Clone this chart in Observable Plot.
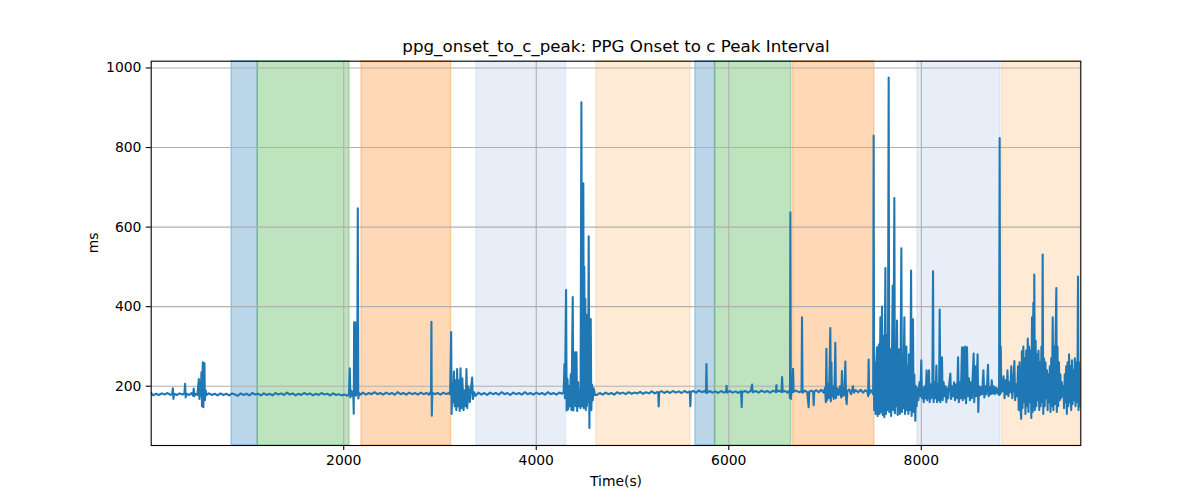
<!DOCTYPE html>
<html>
<head>
<meta charset="utf-8">
<script src="https://cdn.jsdelivr.net/npm/d3@7"></script>
<script src="https://cdn.jsdelivr.net/npm/@observablehq/plot@0.6"></script>
<style>
  html, body { margin: 0; padding: 0; background: #fff; }
  #chart { width: 1200px; height: 500px; }
</style>
</head>
<body>
<div id="chart"></div>
<script>
// ---- Chart text ----
const title = "ppg_onset_to_c_peak: PPG Onset to c Peak Interval";
const xLabel = "Time(s)";
const yLabel = "ms";

// ---- Axis ticks ----
const xTicks = [2000, 4000, 6000, 8000];
const yTicks = [200, 400, 600, 800, 1000];
const xDomain = [0, 9657];
const yDomain = [51, 1017];

// ---- Shaded intervals (seconds) ----
const spanStart = [834, 1107, 2184, 3379, 4625, 5653, 5858, 6668, 7959, 8839];
const spanEnd   = [1107, 2060, 3116, 4310, 5601, 5858, 6650, 7512, 8821, 9657];
const spanColor = ["#1f77b4", "#2ca02c", "#ff7f0e", "#aec7e8", "#ffbb78",
                   "#1f77b4", "#2ca02c", "#ff7f0e", "#aec7e8", "#ffbb78"];

// ---- Series: [time (s), interval (ms)] ----
const samples = [
[0,183],[20,177],[50,181],[80,178],[110,182],[140,179],[170,183],[200,178],[218,181],[225,195],[231,168],[238,181],
[265,178],[295,182],[325,179],[345,182],[352,206],[358,172],[366,181],[395,178],[420,183],[435,176],[442,194],[448,175],
[460,181],[480,178],[495,218],[501,168],[508,210],[514,176],[522,235],[528,150],[536,260],[542,147],[548,255],[553,258],
[558,165],[565,190],[575,178],[600,182],[630,178],[660,181],[690,177],[720,182],[750,178],[780,181],[810,177],[840,182],
[870,179],[900,176],[930,182],[960,178],[990,181],[1020,177],[1050,183],[1080,179],[1110,181],[1140,177],[1170,182],
[1200,178],[1230,181],[1260,177],[1290,183],[1320,179],[1350,182],[1380,178],[1410,184],[1440,179],[1470,182],[1500,177],
[1530,181],[1560,178],[1590,183],[1620,179],[1650,182],[1680,177],[1710,181],[1740,178],[1770,183],[1800,179],[1830,181],
[1860,177],[1890,182],[1920,178],[1950,180],[1980,177],[2010,179],[2040,176],[2055,180],
[2063,245],[2069,172],[2076,190],[2084,176],[2092,186],[2100,178],[2104,131],[2108,361],[2113,180],[2120,361],[2126,176],
[2134,184],[2140,180],[2146,647],[2152,169],[2160,183],[2175,179],
[2200,184],[2230,179],[2260,183],[2290,180],[2320,185],[2350,180],[2380,183],[2410,179],[2440,184],[2470,180],[2500,183],
[2530,179],[2560,185],[2590,180],[2620,183],[2650,179],[2680,184],[2710,180],[2740,183],[2770,179],[2800,184],[2830,180],
[2860,183],[2885,179],[2900,185],[2907,180],[2911,362],[2915,126],[2920,184],[2945,180],[2975,183],[3005,179],[3035,184],
[3065,180],[3090,183],[3105,179],
[3110,250],[3116,336],[3121,130],[3128,200],[3135,160],[3145,237],[3152,150],[3160,215],[3170,140],[3178,243],[3186,150],
[3195,215],[3205,138],[3213,245],[3222,145],[3232,220],[3245,140],[3255,190],[3268,150],[3275,243],[3283,145],[3295,200],
[3310,160],[3320,190],[3334,222],[3342,168],[3355,185],[3370,176],
[3400,184],[3430,179],[3460,183],[3490,178],[3520,184],[3550,180],[3580,183],[3610,179],[3640,185],[3670,180],[3700,183],
[3730,178],[3760,184],[3790,180],[3820,183],[3850,179],[3880,185],[3910,180],[3940,183],[3970,179],[4000,184],[4030,180],
[4060,183],[4090,179],[4120,185],[4150,180],[4180,183],[4210,179],[4240,184],[4270,181],[4285,186],
[4293,256],[4298,170],[4310,442],[4316,139],[4325,218],[4332,142],[4340,200],[4348,150],[4358,230],[4366,140],[4379,424],
[4386,139],[4395,230],[4403,285],[4410,150],[4418,285],[4425,138],[4435,210],[4442,150],[4452,190],[4460,145],[4469,914],
[4476,150],[4483,300],[4489,710],[4494,145],[4499,500],[4504,160],[4510,420],[4515,140],[4520,381],[4526,150],[4532,340],
[4538,160],[4545,577],[4552,95],[4559,300],[4566,369],[4572,140],[4580,204],[4588,165],[4597,195],[4610,178],
[4630,178],[4660,183],[4690,179],[4720,184],[4750,180],[4780,183],[4810,179],[4840,185],[4870,181],[4900,184],[4930,180],
[4960,185],[4990,181],[5020,184],[5050,182],[5080,186],[5110,181],[5140,185],[5170,182],[5200,187],[5230,182],[5260,186],
[5268,181],[5272,149],[5277,184],[5300,188],[5330,183],[5360,187],[5390,183],[5420,188],[5450,184],[5480,187],[5510,183],
[5540,188],[5570,184],[5595,187],[5601,150],[5606,185],[5630,188],[5660,184],[5690,189],[5720,185],[5750,188],[5763,184],
[5768,256],[5773,183],[5800,188],[5830,184],[5860,187],[5890,183],[5920,188],[5950,184],[5972,187],[5977,201],[5982,184],
[6010,188],[6040,184],[6070,187],[6100,183],[6128,188],[6134,147],[6139,185],[6170,188],[6200,184],[6230,189],[6242,204],
[6248,185],[6280,188],[6310,184],[6340,189],[6370,185],[6400,188],[6430,184],[6460,189],[6490,185],[6495,203],[6500,186],
[6525,189],[6548,185],[6554,223],[6560,186],[6585,188],[6610,184],[6630,189],[6636,170],[6640,637],[6645,168],[6652,190],
[6662,185],[6668,244],[6674,186],[6700,189],[6730,185],[6756,188],[6761,373],[6766,184],[6790,189],[6815,185],[6830,147],
[6836,186],[6860,189],[6877,185],[6882,152],[6888,187],[6910,190],[6935,185],[6960,191],[6985,184],[7000,196],[7008,160],
[7014,294],[7020,165],[7030,205],[7040,170],[7048,250],[7055,346],[7060,162],[7066,260],[7072,175],[7080,200],[7090,168],
[7100,210],[7107,309],[7113,170],[7125,195],[7140,178],[7155,200],[7168,172],[7176,238],[7182,175],[7192,195],[7200,178],
[7211,262],[7218,170],[7225,155],[7232,188],[7250,192],[7270,180],[7290,200],[7300,184],[7320,190],[7345,185],[7370,191],
[7395,184],[7420,190],[7440,186],[7448,175],[7453,267],[7458,180],[7475,190],[7490,185],[7500,180],
[7505,830],[7510,140],[7518,260],[7525,130],[7532,250],[7540,298],[7546,125],[7553,270],[7560,305],[7566,130],[7575,373],
[7582,135],[7592,400],[7598,128],[7604,280],[7610,326],[7616,122],[7627,497],[7633,130],[7640,330],[7647,140],[7654,260],
[7661,976],[7667,135],[7674,280],[7680,293],[7687,125],[7695,260],[7703,453],[7709,140],[7720,673],[7726,132],[7733,270],
[7740,150],[7748,365],[7754,128],[7762,250],[7770,293],[7777,130],[7785,260],[7793,547],[7799,135],[7806,270],[7812,145],
[7824,373],[7830,130],[7837,260],[7845,300],[7851,140],[7858,250],[7866,130],[7872,280],[7880,140],[7887,240],[7894,491],
[7900,125],[7907,260],[7914,368],[7920,135],[7928,230],[7938,113],[7945,200],[7952,150],
[7960,195],[7970,165],[7980,210],[7990,175],[8000,265],[8007,170],[8015,195],[8025,160],[8035,200],[8045,170],[8055,240],
[8062,165],[8072,200],[8080,240],[8087,160],[8097,205],[8105,170],[8115,200],[8122,489],[8128,160],[8138,210],[8147,170],
[8157,252],[8164,160],[8175,205],[8184,165],[8191,393],[8198,160],[8208,200],[8215,273],[8222,165],[8232,210],[8242,175],
[8252,200],[8260,160],[8270,195],[8280,170],[8290,205],[8302,232],[8310,168],[8320,200],[8330,175],[8340,210],[8350,165],
[8362,205],[8372,170],[8382,273],[8390,160],[8400,210],[8410,170],[8423,298],[8430,165],[8440,297],[8448,170],[8458,300],
[8465,157],[8475,298],[8483,175],[8495,220],[8505,165],[8515,210],[8525,170],[8535,230],[8544,282],[8550,160],[8560,250],
[8570,175],[8585,280],[8592,135],[8600,200],[8612,178],[8622,198],[8632,180],[8645,240],[8655,172],[8665,200],[8675,180],
[8685,210],[8693,254],[8700,175],[8712,198],[8722,180],[8732,215],[8742,182],[8752,200],[8762,180],[8775,196],[8788,182],
[8800,195],[8808,178],[8814,824],[8819,180],[8825,300],[8832,185],
[8845,190],[8855,225],[8865,170],[8875,215],[8885,180],[8895,240],[8905,175],[8915,210],[8925,185],[8935,250],[8945,170],
[8955,200],[8967,263],[8975,165],[8985,205],[8995,175],[9005,250],[9012,140],[9020,260],[9028,150],[9038,118],[9045,288],
[9052,145],[9060,300],[9068,160],[9075,270],[9082,130],[9090,290],[9098,150],[9106,320],[9113,135],[9120,300],[9128,160],
[9136,290],[9143,120],[9150,373],[9157,135],[9164,410],[9170,150],[9174,481],[9180,140],[9188,314],[9195,150],[9203,280],
[9210,165],[9218,290],[9225,140],[9232,260],[9240,150],[9248,300],[9255,160],[9261,531],[9267,130],[9275,270],[9282,150],
[9290,260],[9297,170],[9305,240],[9312,140],[9320,230],[9327,160],[9335,250],[9342,135],[9350,270],[9357,150],[9365,373],
[9372,140],[9380,300],[9388,155],[9395,320],[9403,447],[9408,135],[9415,300],[9422,150],[9430,260],[9438,165],[9445,230],
[9452,170],[9460,210],[9468,175],[9476,200],[9483,145],[9490,230],[9497,160],[9505,250],[9512,130],[9520,260],[9527,150],
[9535,280],[9542,160],[9550,250],[9557,140],[9565,265],[9572,155],[9580,240],[9587,165],[9595,270],[9602,150],[9610,260],
[9617,160],[9622,200],[9628,476],[9633,140],[9640,260],[9647,150],[9657,240]
];

const time = samples.map(d => d[0]);
const ms = samples.map(d => d[1]);
const series = time.map((t, i) => ({t, v: ms[i]}));
const spans = spanStart.map((s, i) => ({s, e: spanEnd[i], c: spanColor[i]}));

const font = "DejaVu Sans, Liberation Sans, sans-serif";

const chart = Plot.plot({
  width: 1200,
  height: 500,
  marginLeft: 150.7,
  marginRight: 119.7,
  marginTop: 60.7,
  marginBottom: 55,
  style: {fontFamily: font, fontSize: "13.9px", color: "black", background: "white", overflow: "visible"},
  x: {domain: xDomain},
  y: {domain: yDomain},
  marks: [
    Plot.rect(spans, {x1: "s", x2: "e", fill: "c", fillOpacity: 0.3, stroke: "c", strokeOpacity: 0.3, strokeWidth: 1.4}),
    Plot.gridX(xTicks, {stroke: "#b0b0b0", strokeOpacity: 1, strokeWidth: 1.1}),
    Plot.gridY(yTicks, {stroke: "#b0b0b0", strokeOpacity: 1, strokeWidth: 1.1}),
    Plot.line(series, {x: "t", y: "v", stroke: "#1f77b4", strokeWidth: 2.08, strokeLinejoin: "round", clip: true}),
    Plot.frame({stroke: "black", strokeWidth: 1.1}),
    Plot.axisX(xTicks, {tickSize: 4.9, tickPadding: 4.9, tickFormat: d3.format("d"), label: null, fontSize: 13.9, stroke: "black", strokeWidth: 1.1}),
    Plot.axisY(yTicks, {tickSize: 4.9, tickPadding: 4.9, tickFormat: d3.format("d"), label: null, fontSize: 13.9, stroke: "black", strokeWidth: 1.1}),
    Plot.text([title], {frameAnchor: "top", lineAnchor: "middle", dy: -14.7, fontSize: 16.7, fill: "black"}),
    Plot.text([xLabel], {frameAnchor: "bottom", lineAnchor: "middle", dy: 36, fontSize: 13.9, fill: "black"}),
    Plot.text([yLabel], {frameAnchor: "left", dx: -57.7, rotate: -90, fontSize: 13.9, fill: "black"})
  ]
});
document.getElementById("chart").appendChild(chart);
</script>
</body>
</html>
